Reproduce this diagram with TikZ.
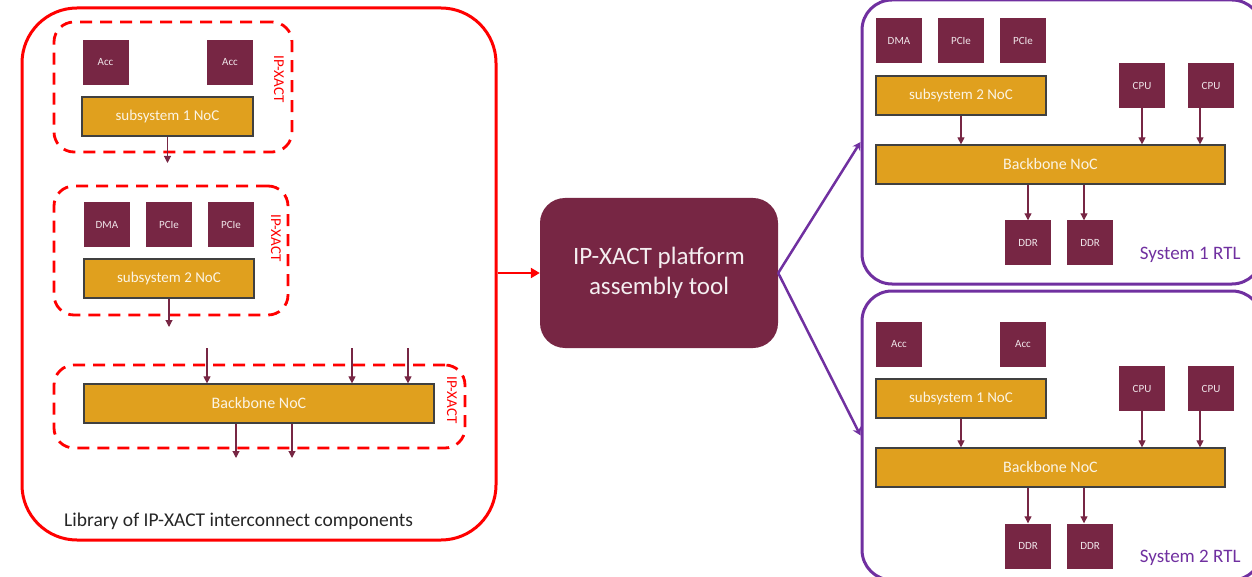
\documentclass[tikz,border=0pt]{standalone}
\usepackage{fontspec}
\setmainfont{Carlito}
\usetikzlibrary{arrows.meta}
\definecolor{wine}{HTML}{772644}
\definecolor{nocgold}{HTML}{E0A01E}
\definecolor{sysline}{HTML}{7030A0}
\definecolor{libred}{HTML}{FF0000}
\newcommand{\fs}[1]{\fontsize{#1}{#1}\selectfont}

\begin{document}
\begin{tikzpicture}[x=1pt,y=-1pt,
    ip/.style={fill=wine,text=white!88!wine,minimum width=46pt,minimum height=45pt,inner sep=0pt,font=\fs{11}},
    noc/.style={fill=nocgold,draw=black!75,line width=1.2pt,minimum height=39pt,inner sep=0pt,text=white!88!nocgold,font=\fs{15}},
    ipxact/.style={draw=libred,line width=2.8pt,dash pattern=on 12pt off 8pt,rounded corners=20pt,inner sep=0pt},
    tag/.style={text=libred,rotate=-90,font=\fs{15},inner sep=0pt},
    link/.style={draw=wine,line width=1.1pt,-{Triangle[width=7pt,length=7pt]}},
    sysframe/.style={draw=sysline,line width=3pt,rounded corners=30pt,inner sep=0pt},
    sysarrow/.style={draw=sysline,line width=2.5pt,-{Stealth[width=9pt,length=8pt]}}]
    \clip (0,0) rectangle (1252,577);

    % library of components
    \node[draw=libred,line width=3pt,rounded corners=55pt,minimum width=474pt,minimum height=532pt] (lib) at (259,274) {};
    \node[anchor=west,inner sep=0pt,text=black!85,font=\fs{19.5}] (libtxt) at (64,521) {Library of IP-XACT interconnect components};

    \node[ipxact,minimum width=238pt,minimum height=130pt] (frA) at (173,87) {};
    \node[ip] (accA) at (105.5,62.5) {Acc};
    \node[ip] (accB) at (230,62.5) {Acc};
    \node[noc,minimum width=171pt] (subA) at (167.5,116.5) {subsystem 1 NoC};
    \node[tag] (tagA) at (279,79) {IP-XACT};
    \coordinate (subAout) at (167.5,163);
    \draw[link] (subA.south) -- (subAout);

    \node[ipxact,minimum width=234pt,minimum height=129pt] (frB) at (171,250.5) {};
    \node[ip] (dmaA) at (107,224.5) {DMA};
    \node[ip] (pcieA) at (169,224.5) {PCIe};
    \node[ip] (pcieB) at (231,224.5) {PCIe};
    \node[noc,minimum width=170pt] (subB) at (169,278.5) {subsystem 2 NoC};
    \node[tag] (tagB) at (276,238) {IP-XACT};
    \coordinate (subBout) at (169,327);
    \draw[link] (subB.south) -- (subBout);

    \node[ipxact,minimum width=411pt,minimum height=83pt] (frC) at (259.5,406.5) {};
    \node[noc,minimum width=350pt,font=\fs{16}] (bbL) at (259,403.5) {Backbone NoC};
    \node[tag] (tagC) at (452,400) {IP-XACT};
    \foreach \x/\n in {207/1,352/2,408/3}{
        \coordinate (in\n) at (\x,348);
        \draw[link] (in\n) -- (in\n |- bbL.north);
    }
    \foreach \x/\n in {236/1,292/2}{
        \coordinate (out\n) at (\x,458);
        \draw[link] (out\n |- bbL.south) -- (out\n);
    }

    % assembly tool
    \node[fill=wine,rounded corners=25pt,minimum width=238pt,minimum height=150pt,text=white!92!wine,
        font=\fontsize{25}{30}\selectfont,align=center] (tool) at (659,273) {\raisebox{-3pt}{IP-XACT platform}\\\raisebox{-3pt}{assembly tool}};
    \draw[libred,line width=2.5pt,-{Triangle[width=10pt,length=9pt]}] (lib.east |- tool.west) -- (tool.west);

    % generated systems
    \node[sysframe,minimum width=400pt,minimum height=284pt] (sysA) at (1062,142) {};
    \node[sysframe,minimum width=400pt,minimum height=289pt] (sysB) at (1062,435.5) {};
    \draw[sysarrow] (tool.east) -- (sysA.west);
    \draw[sysarrow] (tool.east) -- (sysB.west);

    \node[ip] (dmaS) at (899,40.5) {DMA};
    \node[ip] (pcieS1) at (961,40.5) {PCIe};
    \node[ip] (pcieS2) at (1023,40.5) {PCIe};
    \node[ip] (accS1) at (899,344.5) {Acc};
    \node[ip] (accS2) at (1023,344.5) {Acc};

    \foreach \s/\dy/\k/\t in {A/0/2/1,B/303/1/2}{
        \node[noc,minimum width=170pt] (sub\s) at (961,95.5+\dy) {subsystem \k\ NoC};
        \node[ip] (cpu\s1) at (1142,85.5+\dy) {CPU};
        \node[ip] (cpu\s2) at (1211,85.5+\dy) {CPU};
        \node[noc,minimum width=349pt,font=\fs{16}] (bb\s) at (1050.5,164.5+\dy) {Backbone NoC};
        \node[ip] (ddr\s1) at (1028,243+\dy) {DDR};
        \node[ip] (ddr\s2) at (1090,243+\dy) {DDR};
        \node[anchor=east,text=sysline,font=\fs{19}] (name\s) at (1244,255+\dy) {System \t\ RTL};
        \draw[link] (sub\s.south) -- (sub\s.south |- bb\s.north);
        \draw[link] (cpu\s1.south) -- (cpu\s1.south |- bb\s.north);
        \draw[link] ([xshift=-11pt]cpu\s2.south) -- ([xshift=-11pt]cpu\s2.south |- bb\s.north);
        \draw[link] (ddr\s1.north |- bb\s.south) -- (ddr\s1.north);
        \draw[link] ([xshift=-6pt]ddr\s2.north |- bb\s.south) -- ([xshift=-6pt]ddr\s2.north);
    }
\end{tikzpicture}
\end{document}
